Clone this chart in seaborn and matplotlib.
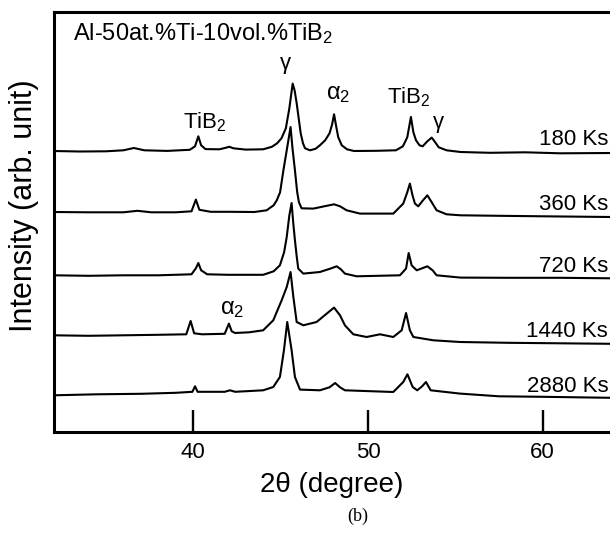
import matplotlib
matplotlib.use("Agg")
import matplotlib.pyplot as plt
import pandas as pd
import seaborn as sns

sns.set_theme(style="ticks")
plt.rcParams["font.family"] = ["Liberation Sans", "DejaVu Sans"]
plt.rcParams["mathtext.fontset"] = "custom"
plt.rcParams["mathtext.rm"] = "Liberation Sans"
plt.rcParams["mathtext.it"] = "Liberation Sans:italic"
plt.rcParams["mathtext.bf"] = "Liberation Sans:bold"
plt.rcParams["text.color"] = "black"
plt.rcParams["axes.labelcolor"] = "black"
plt.rcParams["xtick.color"] = "black"
plt.rcParams["ytick.color"] = "black"

# ---------------- data (arb. units, stacked) ----------------
labels = ["180 Ks", "360 Ks", "720 Ks", "1440 Ks", "2880 Ks"]

theta_180 = [32.0, 33.5, 35.0, 36.0, 36.6, 37.2, 38.5, 39.8, 40.1, 40.29, 40.45, 40.7,
             41.5, 41.85, 42.06, 42.3, 43.0, 44.0, 44.5, 44.8, 45.05, 45.3, 45.5, 45.69,
             45.8, 45.92, 46.05, 46.15, 46.28, 46.4, 46.68, 47.0, 47.25, 47.55, 47.8, 47.95,
             48.06, 48.18, 48.3, 48.5, 48.8, 49.2, 50.5, 51.6, 52.0, 52.25, 52.46, 52.6,
             52.75, 52.95, 53.13, 53.4, 53.65, 53.85, 54.05, 54.5, 55.3, 57.0, 59.0, 61.0, 63.9]
int_180 = [281.3, 280.8, 281.0, 282.0, 284.3, 282.0, 281.4, 282.5, 286.0, 296.0, 287.0, 283.2,
           283.0, 284.5, 285.5, 284.0, 282.7, 283.0, 285.5, 289.0, 294.0, 304.0, 324.0, 348.7,
           342.0, 329.0, 312.0, 299.0, 289.0, 284.0, 282.0, 283.5, 287.0, 292.0, 299.0, 308.0,
           318.0, 306.0, 295.0, 287.0, 283.0, 281.3, 281.5, 282.0, 286.0, 295.0, 315.3, 300.0,
           292.0, 287.0, 286.0, 291.0, 294.7, 290.0, 285.0, 282.0, 280.3, 279.5, 280.0, 279.0, 279.3]

theta_360 = [32.0, 34.0, 36.0, 36.8, 37.6, 39.0, 39.9, 40.15, 40.35, 41.0, 42.0, 43.5,
             44.2, 44.6, 44.78, 44.97, 45.16, 45.35, 45.57, 45.68, 45.82, 45.95, 46.05, 46.2,
             46.87, 47.5, 48.06, 48.4, 48.78, 49.54, 51.45, 52.02, 52.25, 52.4, 52.55, 52.69,
             52.88, 53.15, 53.4, 53.65, 53.93, 54.5, 55.3, 57.5, 60.0, 63.9]
int_360 = [220.3, 220.0, 220.0, 221.5, 220.0, 220.0, 221.0, 232.7, 222.5, 220.5, 220.5, 220.3,
           222.0, 227.0, 232.0, 240.0, 262.0, 282.0, 305.3, 284.0, 262.0, 240.0, 230.0, 224.0,
           223.7, 226.0, 228.0, 226.0, 222.0, 218.7, 218.7, 228.7, 240.0, 248.7, 237.0, 228.7,
           226.0, 232.0, 237.0, 230.0, 222.0, 218.0, 217.0, 216.5, 216.0, 215.3]

theta_720 = [32.0, 34.0, 36.0, 38.0, 39.9, 40.15, 40.29, 40.45, 40.8, 42.0, 44.0, 44.6,
             44.96, 45.2, 45.35, 45.5, 45.63, 45.72, 45.82, 45.92, 46.01, 46.3, 47.25, 47.9,
             48.21, 48.45, 48.68, 49.35, 51.83, 52.18, 52.33, 52.5, 52.79, 53.1, 53.4, 53.7,
             53.93, 55.3, 58.0, 61.0, 63.9]
int_720 = [157.0, 156.5, 157.0, 157.0, 158.0, 164.0, 169.3, 162.0, 158.0, 157.5, 157.5, 161.0,
           167.0, 180.0, 195.3, 217.0, 229.3, 210.0, 192.0, 176.0, 163.7, 158.7, 160.3, 164.0,
           166.0, 163.0, 158.7, 156.0, 157.0, 163.7, 179.3, 167.0, 162.0, 164.0, 166.0, 162.0,
           157.0, 154.7, 154.5, 154.5, 154.0]

theta_1440 = [32.0, 34.0, 36.0, 38.0, 39.6, 39.85, 40.05, 40.5, 41.8, 42.04, 42.2, 42.39,
              43.2, 44.0, 44.58, 45.06, 45.35, 45.57, 45.73, 45.92, 46.3, 47.06, 47.64, 48.06,
              48.4, 48.68, 49.16, 49.92, 50.69, 51.45, 51.93, 52.18, 52.4, 52.6, 53.74, 55.27,
              58.0, 61.0, 63.9]
int_1440 = [97.0, 96.5, 97.0, 97.5, 98.0, 111.3, 99.0, 98.0, 98.5, 108.7, 101.0, 99.3,
            100.0, 102.0, 112.0, 132.0, 145.3, 160.3, 135.3, 110.3, 107.0, 110.3, 118.7, 124.7,
            117.0, 107.0, 98.0, 95.3, 98.0, 95.3, 102.0, 119.3, 102.0, 95.3, 92.0, 90.3,
            89.5, 89.0, 88.5]

theta_2880 = [32.0, 34.5, 37.0, 39.0, 39.95, 40.1, 40.25, 41.8, 42.1, 42.4, 44.0, 44.58,
              44.96, 45.19, 45.38, 45.63, 45.82, 46.11, 47.25, 47.8, 48.12, 48.4, 48.68, 51.45,
              52.02, 52.26, 52.56, 52.82, 53.1, 53.32, 53.59, 55.27, 57.5, 60.0, 63.9]
int_2880 = [37.0, 38.0, 38.5, 39.5, 40.5, 46.0, 40.5, 40.5, 42.0, 40.5, 42.0, 45.3,
            55.3, 82.0, 110.3, 82.0, 55.3, 42.7, 42.0, 45.0, 49.3, 45.0, 42.0, 40.3,
            50.3, 58.0, 45.3, 42.0, 46.0, 50.3, 42.0, 38.7, 36.0, 35.5, 34.5]

label_theta = 63.75
label_base = [287.0, 222.0, 160.3, 95.3, 40.3]

frames = []
for lab, th, it in zip(labels,
                       [theta_180, theta_360, theta_720, theta_1440, theta_2880],
                       [int_180, int_360, int_720, int_1440, int_2880]):
    frames.append(pd.DataFrame({"theta": th, "intensity": it, "sample": lab}))
df = pd.concat(frames, ignore_index=True)

# ---------------- figure ----------------
W, H = 610, 535
fig = plt.figure(figsize=(W / 100, H / 100), dpi=100)
px_per_deg = 17.47
ax = fig.add_axes([53.5 / W, 102.7 / H, 32 * px_per_deg / W, 420.5 / H])

sns.lineplot(data=df, x="theta", y="intensity", units="sample", estimator=None,
             sort=False, color="black", linewidth=1.5, ax=ax, legend=False)

ax.set_xlim(32, 64)
ax.set_ylim(0, 420.5)
ax.set_yticks([])
ax.set_xticks([40, 50, 60])
ax.tick_params(axis="x", direction="in", length=16, width=1.7, labelsize=16,
               pad=7, colors="black")
for s in ax.spines.values():
    s.set_linewidth(2.2)
    s.set_color("black")

ax.set_xlabel("2θ (degree)", fontsize=20)
ax.xaxis.set_label_coords(0.498, -0.125)
ax.xaxis.label.set_va("center")
ax.set_ylabel("Intensity (arb. unit)", fontsize=22)
ax.yaxis.set_label_coords(-0.052, 0.54)
ax.yaxis.label.set_va("center")

for lab, yb in zip(labels, label_base):
    ax.text(label_theta, yb, lab, ha="right", va="baseline", fontsize=16)

ax.text(33.1, 392, "Al-50at.%Ti-10vol.%TiB$_2$", ha="left", va="baseline", fontsize=17)
ax.text(45.3, 363, "γ", ha="center", va="baseline", fontsize=16)
ax.text(47.6, 333.7, "α$_2$", ha="left", va="baseline", fontsize=17)
ax.text(39.44, 303.7, "TiB$_2$", ha="left", va="baseline", fontsize=16)
ax.text(51.07, 328.7, "TiB$_2$", ha="left", va="baseline", fontsize=16)
ax.text(54.02, 304.3, "γ", ha="center", va="baseline", fontsize=16)
ax.text(41.55, 118.7, "α$_2$", ha="left", va="baseline", fontsize=17)

fig.text(358 / W, 1 - 516 / H, "(b)", ha="center", va="center", fontsize=13,
         family="Liberation Serif")

fig.savefig("out.png", dpi=100)
